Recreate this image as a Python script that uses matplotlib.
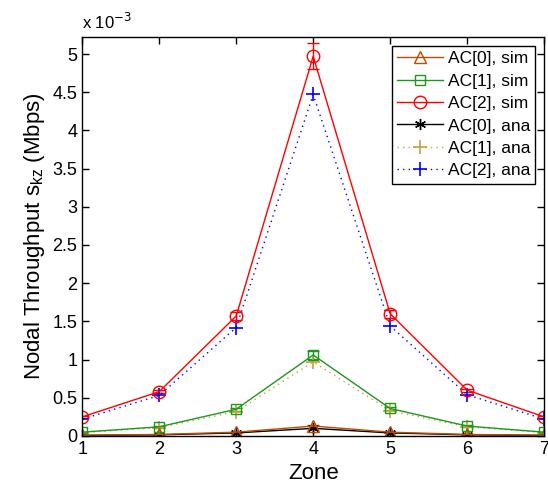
import matplotlib.pyplot as plt
import numpy as np

plt.rcParams['font.family'] = ['Liberation Sans', 'DejaVu Sans']

zones = [1, 2, 3, 4, 5, 6, 7]

# nodal throughput per zone, in units of 1e-3 Mbps
ac0_sim = [0.010, 0.020, 0.050, 0.130, 0.050, 0.020, 0.010]
ac1_sim = [0.050, 0.120, 0.350, 1.060, 0.360, 0.130, 0.050]
ac2_sim = [0.250, 0.580, 1.570, 4.970, 1.600, 0.600, 0.250]
ac0_ana = [0.008, 0.015, 0.040, 0.100, 0.040, 0.015, 0.008]
ac1_ana = [0.045, 0.110, 0.320, 0.970, 0.330, 0.120, 0.045]
ac2_ana = [0.220, 0.530, 1.420, 4.470, 1.440, 0.540, 0.220]

# confidence half-widths of the simulation runs
ac0_err = [0.002, 0.003, 0.005, 0.020, 0.005, 0.003, 0.002]
ac1_err = [0.005, 0.010, 0.020, 0.050, 0.020, 0.010, 0.005]
ac2_err = [0.010, 0.020, 0.050, 0.170, 0.050, 0.020, 0.010]

fig = plt.figure(figsize=(5.48, 4.96), dpi=100)
ax = fig.add_axes([0.150, 0.121, 0.843, 0.804])

brown = '#c04a00'
green = '#1a9a1a'
gold = '#c8a040'
asterisk = (6, 2, 0)
dots = (0, (1, 3))

h0 = ax.errorbar(zones, ac0_sim, yerr=ac0_err, color=brown, marker='^', ms=8, mfc='none',
                 lw=1.0, capsize=4, elinewidth=1.0, label='AC[0], sim')
h1 = ax.errorbar(zones, ac1_sim, yerr=ac1_err, color=green, marker='s', ms=7, mfc='none',
                 lw=1.0, capsize=4, elinewidth=1.0, label='AC[1], sim')
h2 = ax.errorbar(zones, ac2_sim, yerr=ac2_err, color='red', marker='o', ms=9, mfc='none',
                 lw=1.0, capsize=4, elinewidth=1.0, label='AC[2], sim')
h3, = ax.plot(zones, ac0_ana, color='black', marker=asterisk, ms=8, mew=1.0, lw=1.0,
              label='AC[0], ana')
h4, = ax.plot(zones, ac1_ana, color=gold, marker='+', ms=10, mew=1.2, lw=1.0, ls=dots,
              label='AC[1], ana')
h5, = ax.plot(zones, ac2_ana, color='blue', marker='+', ms=10, mew=1.2, lw=1.0, ls=dots,
              label='AC[2], ana')

ax.set_xlim(1, 7)
ax.set_ylim(0, 5.22)
ax.set_xticks(zones)
ax.set_yticks(np.arange(0, 5.01, 0.5))
ax.set_yticklabels(['0', '0.5', '1', '1.5', '2', '2.5', '3', '3.5', '4', '4.5', '5'])
ax.tick_params(direction='in', top=True, right=True, labelsize=13, length=5, width=1)
for sp in ax.spines.values():
    sp.set_linewidth(1.0)

ax.text(0.0, 1.012, r'x 10$^{-3}$', transform=ax.transAxes, fontsize=12, ha='left', va='bottom')

ax.set_xlabel('Zone', fontsize=16)
ax.set_ylabel(r'Nodal Throughput s$_{\mathregular{kz}}$ (Mbps)', fontsize=16)

# legend uses just the data lines, without the error bar caps
handles = [h0[0], h1[0], h2[0], h3, h4, h5]
labels = ['AC[0], sim', 'AC[1], sim', 'AC[2], sim', 'AC[0], ana', 'AC[1], ana', 'AC[2], ana']
leg = ax.legend(handles, labels, loc='upper right',
                fontsize=12.5, fancybox=False, edgecolor='black', framealpha=1,
                handlelength=2.6, borderaxespad=0.5, labelspacing=0.42,
                handletextpad=0.3, borderpad=0.3)
leg.get_frame().set_linewidth(1.0)

fig.savefig('out.png', dpi=100)
